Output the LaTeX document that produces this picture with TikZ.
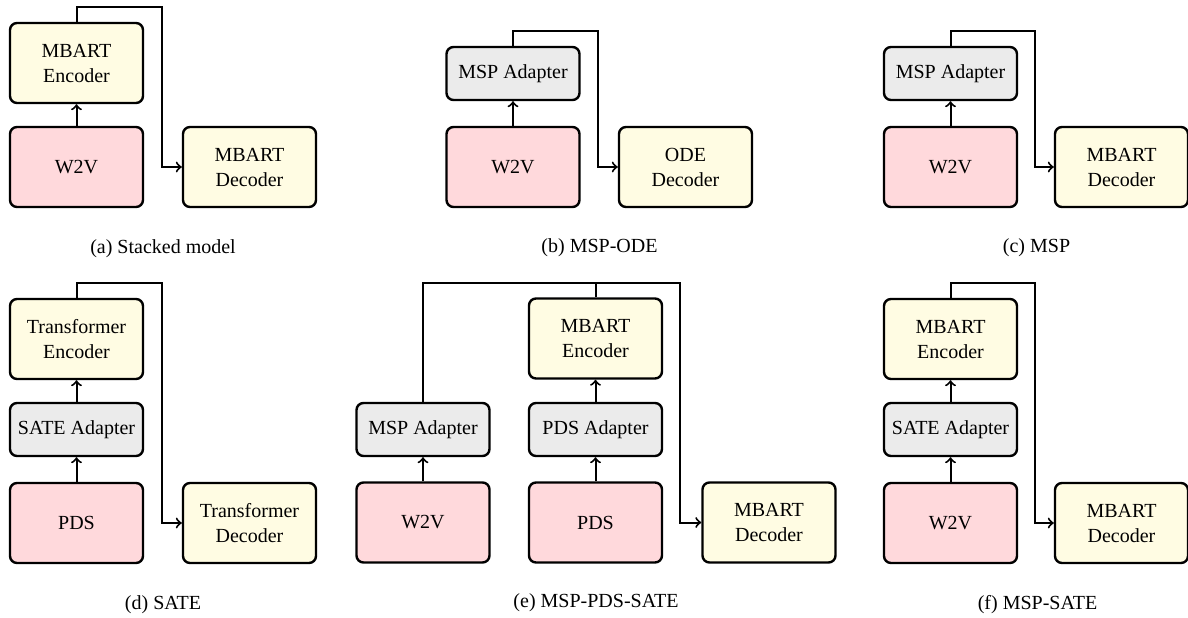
\documentclass[tikz,border=0pt]{standalone}
\usepackage{fontspec}
\setmainfont{Liberation Serif}
\definecolor{pinkfill}{RGB}{255,217,220}
\definecolor{yelfill}{RGB}{255,252,227}
\definecolor{grayfill}{RGB}{235,235,235}
\tikzset{
  blk/.style={draw, rounded corners=3.5pt, line width=1.2pt, minimum width=66.5pt, align=center, inner sep=0pt, font=\fontsize{10}{12.5}\selectfont},
  tall/.style={blk, minimum height=40pt},
  short/.style={blk, minimum height=26.5pt},
  inp/.style={tall, fill=pinkfill},
  encd/.style={tall, fill=yelfill},
  adp/.style={short, fill=grayfill},
  conn/.style={line width=1pt},
  captext/.style={font=\fontsize{10}{12}\selectfont}
}
\begin{document}
\begin{tikzpicture}[x=0.5pt,y=-0.5pt]
\useasboundingbox (0,0) rectangle (1188,617);
% (a)
\node[encd] (aenc) at (76.5,63) {MBART\\Encoder};
\node[inp] (aw2v) at (76.5,167) {W2V};
\node[encd] (adec) at (249.5,167) {MBART\\Decoder};
\coordinate (atop) at (162,7);
\draw[conn,->] (aw2v.north) -- (aenc.south);
\draw[conn,->] (aenc.north) |- (atop) |- (adec.west);
\node[captext] (acap) at (163,249) {(a) Stacked model};
% (b)
\node[adp] (bad) at (513,73.5) {MSP Adapter};
\node[inp] (bw2v) at (513,167) {W2V};
\node[encd] (bdec) at (685.5,167) {ODE\\Decoder};
\coordinate (btop) at (598,31);
\draw[conn,->] (bw2v.north) -- (bad.south);
\draw[conn,->] (bad.north) |- (btop) |- (bdec.west);
\node[captext] (bcap) at (599.5,248) {(b) MSP-ODE};
% (c)
\node[adp] (cad) at (950.5,73.5) {MSP Adapter};
\node[inp] (cw2v) at (950.5,167) {W2V};
\node[encd] (cdec) at (1121.5,167) {MBART\\Decoder};
\coordinate (ctop) at (1035,31);
\draw[conn,->] (cw2v.north) -- (cad.south);
\draw[conn,->] (cad.north) |- (ctop) |- (cdec.west);
\node[captext] (ccap) at (1036.5,248) {(c) MSP};
% (d)
\node[encd] (denc) at (76.5,339) {Transformer\\Encoder};
\node[adp] (dad) at (76.5,429.5) {SATE Adapter};
\node[inp] (dpds) at (76.5,523) {PDS};
\node[encd] (ddec) at (249.5,523) {Transformer\\Decoder};
\coordinate (dtop) at (162,283);
\draw[conn,->] (dpds.north) -- (dad.south);
\draw[conn,->] (dad.north) -- (denc.south);
\draw[conn,->] (denc.north) |- (dtop) |- (ddec.west);
\node[captext] (dcap) at (163,605) {(d) SATE};
% (e)
\node[adp] (emsp) at (423,429.5) {MSP Adapter};
\node[inp] (ew2v) at (423,522.5) {W2V};
\node[encd] (eenc) at (595.5,338.5) {MBART\\Encoder};
\node[adp] (epdsad) at (595.5,429.5) {PDS Adapter};
\node[inp] (epds) at (595.5,522.5) {PDS};
\node[encd] (edec) at (769,522.5) {MBART\\Decoder};
\coordinate (etop) at (680,283);
\draw[conn,->] (ew2v.north) -- (emsp.south);
\draw[conn,->] (epds.north) -- (epdsad.south);
\draw[conn,->] (epdsad.north) -- (eenc.south);
\draw[conn,->] (emsp.north) |- (etop) |- (edec.west);
\draw[conn] (eenc.north) -- (eenc.north |- etop);
\node[captext] (ecap) at (596,603) {(e) MSP-PDS-SATE};
% (f)
\node[encd] (fenc) at (950.5,339) {MBART\\Encoder};
\node[adp] (fad) at (950.5,429.5) {SATE Adapter};
\node[inp] (fw2v) at (950.5,523) {W2V};
\node[encd] (fdec) at (1121.5,523) {MBART\\Decoder};
\coordinate (ftop) at (1035,283);
\draw[conn,->] (fw2v.north) -- (fad.south);
\draw[conn,->] (fad.north) -- (fenc.south);
\draw[conn,->] (fenc.north) |- (ftop) |- (fdec.west);
\node[captext] (fcap) at (1037.5,605) {(f) MSP-SATE};
\end{tikzpicture}
\end{document}
